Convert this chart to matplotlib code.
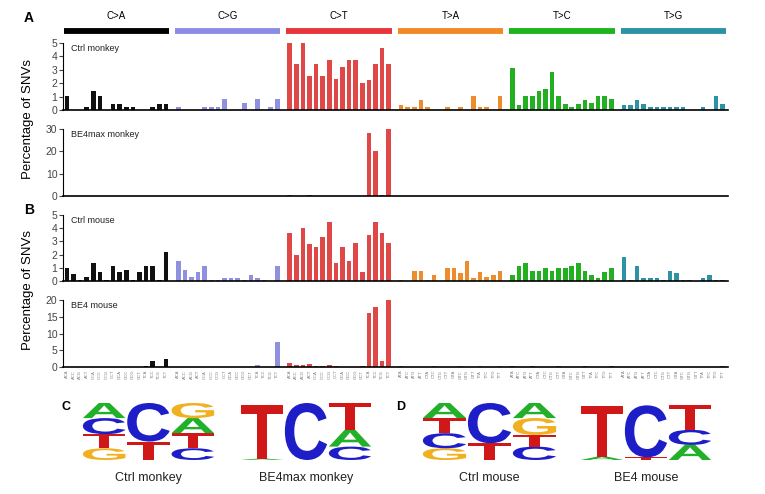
import matplotlib
matplotlib.use("Agg")
import matplotlib.pyplot as plt
import numpy as np
from matplotlib.textpath import TextPath
from matplotlib.patches import PathPatch
from matplotlib.font_manager import FontProperties
import matplotlib.transforms as mtransforms

plt.rcParams["font.family"] = ["Liberation Sans", "DejaVu Sans"]

# mutation classes and trinucleotide contexts
mut_types = ["C>A", "C>G", "C>T", "T>A", "T>C", "T>G"]
mut_colors = ["#000000", "#8c8ce8", "#e8333a", "#f08a24", "#1cb41c", "#2a93a6"]
bar_colors = ["#111111", "#9090e0", "#e04848", "#ec8c2c", "#22b022", "#2d92a4"]
contexts_c = [a + "C" + b for a in "ACGT" for b in "ACGT"]
contexts_t = [a + "T" + b for a in "ACGT" for b in "ACGT"]

# percentage of SNVs, 16 contexts per class (C>A, C>G, C>T, T>A, T>C, T>G)
ctrl_monkey = [
    1.05, 0, 0, 0.2, 1.4, 1.05, 0, 0.45, 0.45, 0.2, 0.2, 0, 0, 0.2, 0.45, 0.45,
    0.2, 0, 0, 0, 0.2, 0.2, 0.2, 0.8, 0, 0, 0.5, 0, 0.8, 0, 0.2, 0.8,
    5.0, 3.4, 5.0, 2.55, 3.4, 2.55, 3.75, 2.3, 3.2, 3.75, 3.75, 2.0, 2.25, 3.4, 4.6, 3.4,
    0.4, 0.2, 0.2, 0.75, 0.2, 0, 0, 0.2, 0, 0.2, 0, 1.05, 0.2, 0.2, 0, 1.05,
    3.1, 0.4, 1.05, 1.05, 1.4, 1.6, 2.8, 1.05, 0.45, 0.2, 0.45, 0.75, 0.55, 1.05, 1.05, 0.8,
    0.4, 0.4, 0.75, 0.45, 0.2, 0.2, 0.2, 0.2, 0.2, 0.2, 0, 0, 0.2, 0, 1.05, 0.45,
]
be4max_monkey = [
    0, 0, 0, 0, 0, 0, 0, 0, 0, 0, 0, 0, 0, 0, 0, 0,
    0, 0, 0, 0, 0, 0, 0, 0, 0, 0, 0, 0, 0, 0, 0, 0,
    0.3, 0, 0, 0.5, 0, 0, 0, 0, 0, 0, 0, 0, 28.3, 20.0, 0.5, 30.0,
    0, 0, 0, 0, 0, 0, 0, 0, 0, 0, 0, 0, 0, 0, 0, 0,
    0, 0, 0, 0, 0, 0, 0, 0, 0, 0, 0, 0, 0, 0, 0, 0,
    0, 0, 0, 0, 0, 0, 0, 0, 0, 0, 0, 0, 0, 0, 0, 0,
]
ctrl_mouse = [
    1.0, 0.5, 0.1, 0.3, 1.35, 0.65, 0.1, 1.15, 0.65, 0.8, 0.1, 0.65, 1.15, 1.15, 0.1, 2.2,
    1.5, 0.8, 0.3, 0.65, 1.15, 0.05, 0.05, 0.25, 0.25, 0.25, 0.1, 0.45, 0.25, 0.05, 0, 1.15,
    3.6, 2.0, 4.0, 2.8, 2.6, 3.3, 4.5, 1.35, 2.6, 1.5, 2.9, 0.65, 3.5, 4.5, 3.6, 2.9,
    0.05, 0, 0.75, 0.75, 0.1, 0.45, 0, 1.0, 1.0, 0.6, 1.5, 0.25, 0.65, 0.3, 0.45, 0.75,
    0.45, 1.15, 1.35, 0.75, 0.75, 1.0, 0.75, 1.0, 1.0, 1.15, 1.35, 0.75, 0.45, 0.25, 0.65, 1.0,
    1.85, 0.05, 1.15, 0.25, 0.25, 0.25, 0.05, 0.75, 0.6, 0.05, 0.05, 0, 0.25, 0.45, 0.05, 0.05,
]
be4_mouse = [
    0, 0, 0, 0, 0, 0, 0, 0, 0, 0, 0, 0, 0.4, 1.8, 0, 2.3,
    0, 0, 0, 0, 0, 0, 0, 0, 0, 0, 0, 0, 0.6, 0.1, 0, 7.5,
    1.1, 0.5, 0.6, 0.8, 0.3, 0.4, 0.6, 0.2, 0, 0, 0, 0.3, 16.0, 18.0, 1.7, 20.0,
    0.15, 0, 0, 0, 0, 0.15, 0, 0, 0, 0.15, 0, 0, 0.15, 0, 0, 0.15,
    0.15, 0, 0, 0.15, 0, 0, 0, 0.15, 0, 0, 0, 0.15, 0, 0, 0, 0.15,
    0, 0, 0, 0, 0, 0, 0, 0, 0, 0, 0, 0, 0, 0, 0, 0.15,
]

# sequence logos: per position, letters bottom -> top with heights
logo_ctrl_monkey = [[("G", 0.35), ("T", 0.42), ("C", 0.48), ("A", 0.45)],
                    [("T", 0.55), ("C", 1.15)],
                    [("C", 0.35), ("T", 0.45), ("A", 0.45), ("G", 0.45)]]
logo_be4max_monkey = [[("A", 0.04), ("T", 1.6)],
                      [("C", 1.7)],
                      [("C", 0.4), ("A", 0.5), ("T", 0.8)]]
logo_ctrl_mouse = [[("G", 0.35), ("C", 0.45), ("T", 0.45), ("A", 0.45)],
                   [("T", 0.5), ("C", 1.2)],
                   [("C", 0.4), ("T", 0.35), ("G", 0.5), ("A", 0.45)]]
logo_be4_mouse = [[("A", 0.1), ("T", 1.5)],
                  [("T", 0.08), ("C", 1.55)],
                  [("A", 0.45), ("C", 0.45), ("T", 0.75)]]
letter_colors = {"A": "#22b02a", "C": "#1e1ec8", "G": "#f0b020", "T": "#d01818"}

W, H = 765, 494
fig = plt.figure(figsize=(W / 100, H / 100), dpi=100)


def px_axes(left, top, right, bottom):
    return fig.add_axes([left / W, 1 - bottom / H, (right - left) / W, (bottom - top) / H])


GAP = 16.9
xpos = np.array([g * GAP + i for g in range(6) for i in range(16)])
cols = [bar_colors[g] for g in range(6) for i in range(16)]
XLIM = (-0.6, 100.3)

# header bars
hax = px_axes(63, 10, 728, 40)
hax.set_xlim(*XLIM)
hax.set_ylim(0, 1)
hax.axis("off")
for g, name in enumerate(mut_types):
    hax.plot([g * GAP - 0.5, g * GAP + 15.5], [0.3, 0.3], color=mut_colors[g], lw=4.2, solid_capstyle="butt")
    hax.text(g * GAP + 7.5, 0.62, name, ha="center", va="bottom", fontsize=7)

panels = [
    (ctrl_monkey, "Ctrl monkey", 43, 110, 5, [0, 1, 2, 3, 4, 5]),
    (be4max_monkey, "BE4max monkey", 129, 196, 30, [0, 10, 20, 30]),
    (ctrl_mouse, "Ctrl mouse", 215, 281, 5, [0, 1, 2, 3, 4, 5]),
    (be4_mouse, "BE4 mouse", 300, 367, 20, [0, 5, 10, 15, 20]),
]
for k, (vals, title, top, bot, ymax, ticks) in enumerate(panels):
    ax = px_axes(63, top, 728, bot)
    ax.bar(xpos, vals, width=0.7, color=cols)
    ax.set_xlim(*XLIM)
    ax.set_ylim(0, ymax)
    ax.set_yticks(ticks)
    ax.tick_params(axis="y", labelsize=7.5, length=3, width=0.8, pad=1, colors="#444444")
    for s in ["top", "right"]:
        ax.spines[s].set_visible(False)
    ax.spines["left"].set_linewidth(0.8)
    ax.spines["bottom"].set_linewidth(1.2)
    ax.text(0.012, 0.98, title, transform=ax.transAxes, fontsize=6.5, va="top", color="#222222")
    if k == 3:
        ax.set_xticks(xpos)
        ax.set_xticklabels(contexts_c * 3 + contexts_t * 3, rotation=90, fontsize=3, color="#777777")
        ax.tick_params(axis="x", length=0, pad=2)
    else:
        ax.set_xticks([])

fig.text(28 / W, 1 - 119 / H, "Percentage of SNVs", rotation=90, ha="center", va="center", fontsize=9.5)
fig.text(28 / W, 1 - 290 / H, "Percentage of SNVs", rotation=90, ha="center", va="center", fontsize=9.5)
fig.text(24 / W, 1 - 18 / H, "A", fontsize=10, fontweight="bold", va="center")
fig.text(24 / W, 1 - 210 / H, "B", fontsize=10, fontweight="bold", va="center")
fig.text(62 / W, 1 - 407 / H, "C", fontsize=9, fontweight="bold", va="center")
fig.text(396 / W, 1 - 407 / H, "D", fontsize=9, fontweight="bold", va="center")

fp = FontProperties(family="Liberation Sans", weight="bold")


def draw_logo(ax, logo):
    ax.set_xlim(0, len(logo))
    ax.set_ylim(0, 1.7)
    ax.axis("off")
    for i, stack in enumerate(logo):
        y = 0
        for ch, h in stack:
            tp = TextPath((0, 0), ch, size=1, prop=fp)
            bb = tp.get_extents()
            t = (mtransforms.Affine2D().translate(-bb.x0, -bb.y0)
                 .scale(0.96 / bb.width, h / bb.height).translate(i + 0.02, y))
            ax.add_patch(PathPatch(t.transform_path(tp), color=letter_colors[ch], lw=0))
            y += h


logos = [
    (logo_ctrl_monkey, "Ctrl monkey", 82, 215),
    (logo_be4max_monkey, "BE4max monkey", 240, 372),
    (logo_ctrl_mouse, "Ctrl mouse", 422, 557),
    (logo_be4_mouse, "BE4 mouse", 580, 712),
]
for logo, label, l, r in logos:
    lax = px_axes(l, 403, r, 460)
    draw_logo(lax, logo)
    fig.text((l + r) / 2 / W, 1 - 478 / H, label, ha="center", va="center", fontsize=9, color="#222222")

fig.savefig("out.png", dpi=100)
